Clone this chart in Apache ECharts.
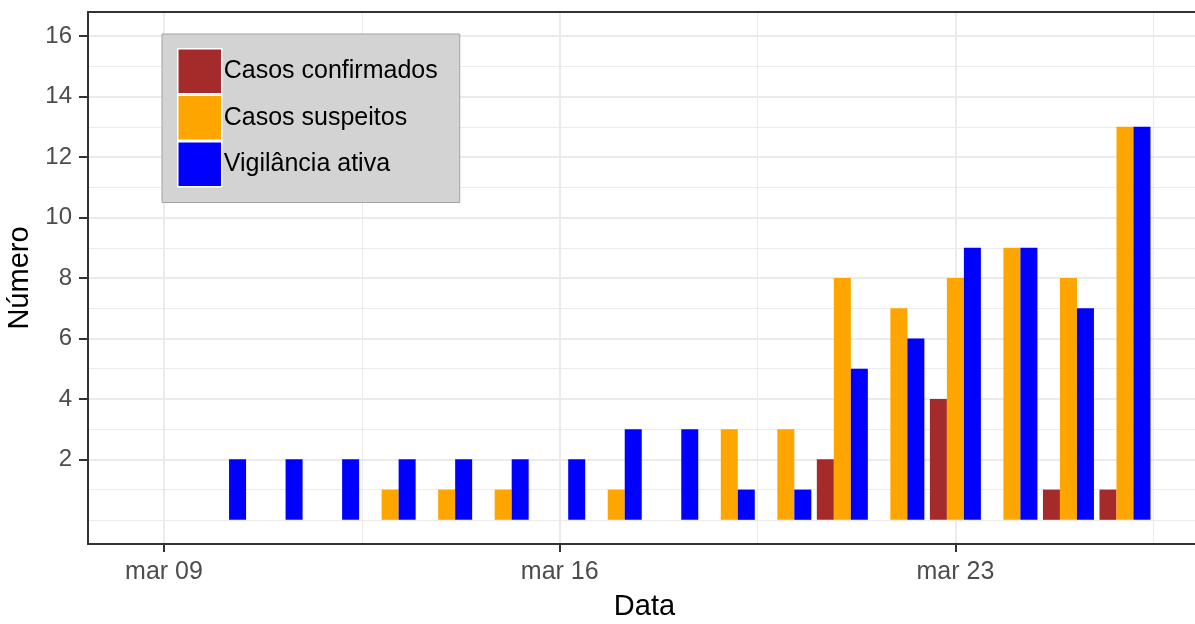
<!DOCTYPE html>
<html>
  <head>
    <meta charset="utf-8" />
    <style>
      html, body {margin: 0; padding: 0; background: #fff;}
      #chart {width: 1195px; height: 624px;}
    </style>
    <script src="https://cdn.jsdelivr.net/npm/echarts@6.0.0/dist/echarts.min.js"></script>
  </head>
  <body>
    <div id="chart"></div>
    <script type="text/javascript">
      // days of March
      var days = [9, 10, 11, 12, 13, 14, 15, 16, 17, 18, 19, 20, 21, 22, 23, 24, 25, 26];
      var confirmados = [0, 0, 0, 0, 0, 0, 0, 0, 0, 0, 0, 0, 2, 0, 4, 0, 1, 1];
      var suspeitos   = [0, 0, 0, 0, 1, 1, 1, 0, 1, 0, 3, 3, 8, 7, 8, 9, 8, 13];
      var vigilancia  = [0, 2, 2, 2, 2, 2, 2, 2, 3, 3, 1, 1, 5, 6, 9, 9, 7, 13];

      var xTickDays = [9, 16, 23];
      var xTickLabels = ['mar 09', 'mar 16', 'mar 23'];
      var xMinorDays = [12.5, 19.5, 26.5];
      var yTicks = [2, 4, 6, 8, 10, 12, 14, 16];
      var yMinor = [0, 1, 3, 5, 7, 9, 11, 13, 15];

      var font = "'Liberation Sans', Arial, sans-serif";

      function pairs(vals) {
        return days.map(function (d, i) { return [d, vals[i]]; });
      }

      var chart = echarts.init(document.getElementById('chart'));

      var option = {
        animation: false,
        textStyle: {fontFamily: font},
        grid: {left: 88, top: 12, width: 1113, height: 532, outerBoundsMode: 'none', containLabel: false},
        legend: {
          orient: 'vertical',
          left: 162,
          top: 34,
          padding: [14, 22, 15, 15],
          backgroundColor: '#d3d3d3',
          borderColor: '#a3a3a3',
          borderWidth: 1,
          borderRadius: 0,
          itemWidth: 44,
          itemHeight: 45,
          itemGap: 0,
          icon: 'rect',
          itemStyle: {borderColor: '#fff', borderWidth: 1.5},
          textStyle: {fontSize: 25, color: '#000', fontFamily: font, padding: [0, 0, 0, -3]},
          data: ['Casos confirmados', 'Casos suspeitos', 'Vigilância ativa']
        },
        xAxis: [
          {
            type: 'value',
            min: 7.655,
            max: 27.345,
            name: 'Data',
            nameLocation: 'middle',
            nameGap: 48,
            nameTextStyle: {fontSize: 29, color: '#000', fontFamily: font},
            axisLine: {show: true, onZero: false, lineStyle: {color: '#333', width: 2}},
            axisTick: {show: true, customValues: xTickDays, length: 8, lineStyle: {color: '#333', width: 2}},
            axisLabel: {
              customValues: xTickDays,
              fontSize: 25,
              color: '#4d4d4d',
              margin: 16,
              formatter: function (v) { return xTickLabels[xTickDays.indexOf(v)]; }
            },
            splitLine: {show: true, lineStyle: {color: '#ebebeb', width: 2}}
          },
          {
            type: 'value',
            position: 'top',
            min: 7.655,
            max: 27.345,
            axisLine: {show: true, onZero: false, lineStyle: {color: '#333', width: 2}},
            axisTick: {show: false, customValues: xMinorDays},
            axisLabel: {show: false},
            splitLine: {show: true, lineStyle: {color: '#ebebeb', width: 1}}
          }
        ],
        yAxis: [
          {
            type: 'value',
            min: -0.8,
            max: 16.8,
            name: 'Número',
            nameLocation: 'middle',
            nameGap: 42,
            nameTextStyle: {fontSize: 29, color: '#000', fontFamily: font},
            axisLine: {show: true, onZero: false, lineStyle: {color: '#333', width: 2}},
            axisTick: {show: true, customValues: yTicks, length: 9, lineStyle: {color: '#333', width: 2}},
            axisLabel: {customValues: yTicks, fontSize: 24, color: '#4d4d4d', margin: 16},
            splitLine: {show: true, lineStyle: {color: '#ebebeb', width: 2}}
          },
          {
            type: 'value',
            min: -0.8,
            max: 16.8,
            axisLine: {show: false},
            axisTick: {show: false, customValues: yMinor},
            axisLabel: {show: false},
            splitLine: {show: true, lineStyle: {color: '#ebebeb', width: 1}}
          }
        ],
        series: [
          {name: 'Casos confirmados', type: 'bar', barWidth: 17, barGap: '0%',
           itemStyle: {color: '#a52a2a'}, data: pairs(confirmados)},
          {name: 'Casos suspeitos', type: 'bar', barWidth: 17, barGap: '0%',
           itemStyle: {color: '#ffa500'}, data: pairs(suspeitos)},
          {name: 'Vigilância ativa', type: 'bar', barWidth: 17, barGap: '0%',
           itemStyle: {color: '#0000ff'}, data: pairs(vigilancia)}
        ]
      };

      chart.setOption(option);
    </script>
  </body>
</html>
